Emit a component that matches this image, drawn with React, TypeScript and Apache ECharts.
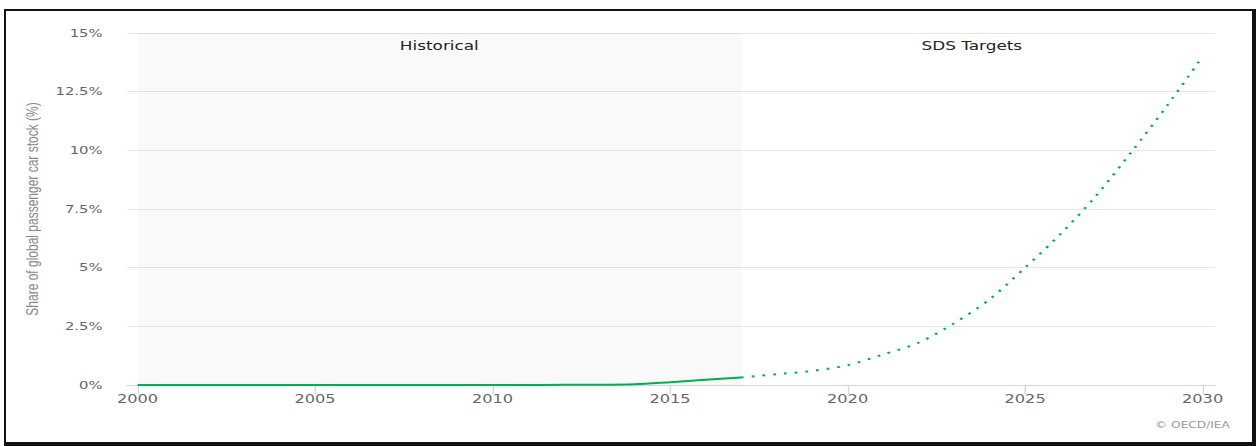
import React, { useEffect, useRef } from "react";
import * as echarts from "echarts";

const histYears = [2000, 2001, 2002, 2003, 2004, 2005, 2006, 2007, 2008, 2009, 2010, 2011, 2012, 2013, 2014, 2015, 2016, 2017];
const histValues = [0, 0, 0, 0, 0, 0, 0, 0, 0, 0, 0, 0, 0.01, 0.01, 0.03, 0.12, 0.22, 0.32];
const sdsYears = [2017, 2018, 2019, 2020, 2021, 2022, 2023, 2024, 2025, 2026, 2027, 2028, 2029, 2030];
const sdsValues = [0.32, 0.46, 0.6, 0.84, 1.3, 1.8, 2.63, 3.65, 5.0, 6.44, 8.06, 9.94, 11.9, 14.0];
const xTickValues = [2000, 2005, 2010, 2015, 2020, 2025, 2030];
const bandLabels = ["Historical", "SDS Targets"];
const yAxisTitle = "Share of global passenger car stock (%)";
const credits = "© OECD/IEA";

const STRETCH = 1.35;
const BASE_W = 930;
const H = 446;
const GREEN = "#00b050";
const FONT = "DejaVu Sans";

export default function App() {
  const ref = useRef<HTMLDivElement>(null);

  useEffect(() => {
    if (!ref.current) return;
    const chart = echarts.init(ref.current, null, { renderer: "svg" });
    chart.setOption({
      animation: false,
      backgroundColor: "#ffffff",
      grid: { left: 94, right: 30, top: 33, bottom: 61, containLabel: false },
      xAxis: {
        type: "value",
        min: 1999.7,
        max: 2030.35,
        axisLine: { show: true, lineStyle: { color: "#ccd6eb", width: 1 } },
        axisTick: { show: true, length: 9, lineStyle: { color: "#ccd6eb" }, customValues: xTickValues },
        axisLabel: {
          customValues: xTickValues,
          color: "#666666",
          fontFamily: FONT,
          fontSize: 12,
          margin: 8,
          formatter: (v: number) => String(Math.round(v)),
        },
        splitLine: { show: false },
      },
      yAxis: {
        type: "value",
        min: 0,
        max: 15,
        interval: 2.5,
        name: yAxisTitle,
        nameLocation: "middle",
        nameRotate: 90,
        nameGap: 64,
        nameTextStyle: { color: "#888888", fontFamily: "Liberation Sans", fontSize: 12 },
        axisLine: { show: false },
        axisTick: { show: false },
        axisLabel: {
          color: "#666666",
          fontFamily: FONT,
          fontSize: 11,
          margin: 18,
          formatter: (v: number) => v + "%",
        },
        splitLine: { show: true, lineStyle: { color: "#e6e6e6", width: 1 } },
      },
      series: [
        {
          type: "line",
          name: "Historical",
          data: histYears.map((y, i) => [y, histValues[i]]),
          showSymbol: false,
          smooth: 0.3,
          lineStyle: { color: GREEN, width: 2 },
          z: 3,
          markArea: {
            silent: true,
            label: {
              position: "insideTop",
              distance: 6,
              color: "#222222",
              fontFamily: FONT,
              fontSize: 12.5,
            },
            data: [
              [
                { xAxis: histYears[0], name: bandLabels[0], itemStyle: { color: "rgba(0,0,0,0.022)" } },
                { xAxis: histYears[histYears.length - 1] },
              ],
              [
                { xAxis: sdsYears[0], name: bandLabels[1], itemStyle: { color: "rgba(255,255,255,0)" } },
                { xAxis: sdsYears[sdsYears.length - 1] },
              ],
            ],
          },
        },
        {
          type: "line",
          name: "SDS",
          data: sdsYears.map((y, i) => [y, sdsValues[i]]),
          showSymbol: false,
          smooth: 0.3,
          lineStyle: { color: GREEN, width: 2, type: [2, 6] },
          z: 3,
        },
      ],
      graphic: [
        {
          type: "text",
          right: BASE_W - 911,
          top: 421,
          style: {
            text: credits,
            fill: "#999999",
            fontFamily: FONT,
            fontSize: 9,
          },
        },
      ],
    });
    return () => chart.dispose();
  }, []);

  return (
    <div style={{ position: "fixed", left: 0, top: 0, width: 1256, height: H, background: "#fff", overflow: "hidden" }}>
      <div
        ref={ref}
        style={{
          position: "absolute",
          left: 0,
          top: 0,
          width: BASE_W,
          height: H,
          transform: `scaleX(${STRETCH})`,
          transformOrigin: "0 0",
        }}
      />
      <div
        style={{
          position: "absolute",
          left: 4,
          top: 9,
          width: 1252,
          height: 437,
          boxSizing: "border-box",
          borderTop: "2px solid #111",
          borderLeft: "2px solid #111",
          borderRight: "4px solid #111",
          borderBottom: "4px solid #111",
          pointerEvents: "none",
        }}
      />
    </div>
  );
}
